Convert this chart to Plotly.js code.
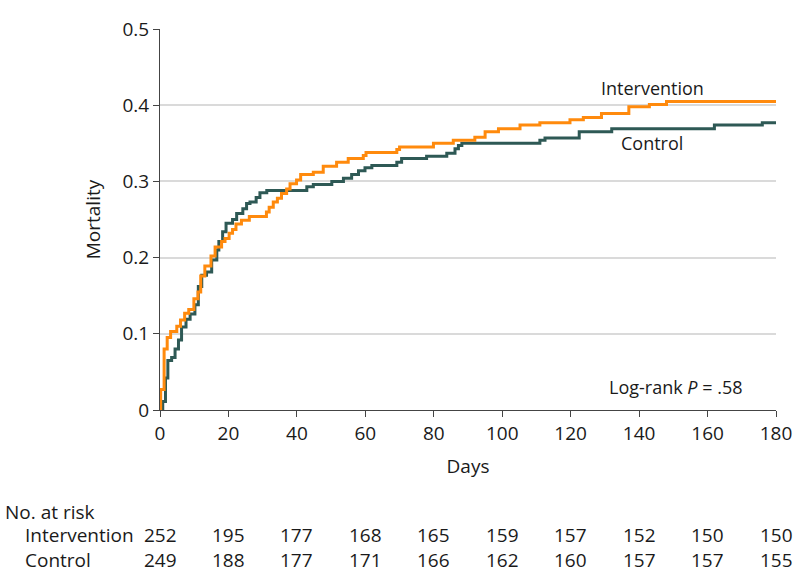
<!DOCTYPE html>
<html>
<head>
<meta charset="utf-8">
<script src="https://cdn.plot.ly/plotly-3.0.1.min.js"></script>
<style>
  html, body { margin: 0; padding: 0; background: #ffffff; }
  #chart { width: 794px; height: 588px; }
</style>
</head>
<body>
<div id="chart"></div>
<script>
// ---- Data ----
const interventionDays = [0, 0.2, 1.2, 2.1, 3.1, 4.9, 6.0, 7.2, 8.4, 9.9, 11.1, 11.9, 13.1, 14.9, 16.1, 18.0, 19.0, 20.2, 21.2, 22.2, 23.8, 26.1, 31.1, 31.9, 33.1, 34.3, 35.5, 37.0, 38.0, 39.9, 41.1, 44.8, 47.7, 51.6, 55.0, 59.4, 60.2, 69.2, 70.0, 79.9, 85.7, 92.0, 95.0, 98.9, 105.2, 111.0, 119.8, 123.7, 129.0, 137.0, 143.0, 148.0, 180];
const interventionMortality = [0, 0.027, 0.080, 0.095, 0.103, 0.110, 0.118, 0.127, 0.132, 0.146, 0.155, 0.176, 0.189, 0.202, 0.214, 0.221, 0.225, 0.232, 0.237, 0.244, 0.249, 0.254, 0.260, 0.266, 0.273, 0.278, 0.284, 0.290, 0.297, 0.302, 0.309, 0.312, 0.320, 0.325, 0.330, 0.334, 0.338, 0.342, 0.345, 0.350, 0.354, 0.358, 0.365, 0.369, 0.374, 0.377, 0.381, 0.384, 0.389, 0.398, 0.401, 0.405, 0.405];

const controlDays = [0, 0.8, 1.6, 2.3, 3.4, 4.4, 5.4, 6.3, 7.6, 8.8, 10.2, 11.2, 12.2, 13.6, 15.1, 16.6, 17.2, 18.3, 19.3, 21.2, 22.4, 24.2, 25.3, 26.3, 28.1, 29.2, 31.2, 42.9, 44.8, 50.2, 53.6, 56.0, 58.0, 59.9, 61.9, 69.2, 70.6, 77.9, 83.8, 86.2, 87.2, 88.2, 111.0, 112.5, 122.5, 132.0, 162.0, 176.0, 180];
const controlMortality = [0, 0.011, 0.042, 0.065, 0.069, 0.080, 0.092, 0.109, 0.119, 0.126, 0.138, 0.162, 0.177, 0.181, 0.197, 0.210, 0.221, 0.234, 0.245, 0.250, 0.258, 0.264, 0.271, 0.273, 0.279, 0.285, 0.288, 0.293, 0.296, 0.300, 0.304, 0.309, 0.314, 0.318, 0.321, 0.325, 0.330, 0.333, 0.337, 0.343, 0.347, 0.350, 0.354, 0.357, 0.365, 0.369, 0.374, 0.377, 0.377];

const riskTimes = [0, 20, 40, 60, 80, 100, 120, 140, 160, 180];
const riskIntervention = [252, 195, 177, 168, 165, 159, 157, 152, 150, 150];
const riskControl = [249, 188, 177, 171, 166, 162, 160, 157, 157, 155];

const groupNames = ["Intervention", "Control"];
const pValueText = "Log-rank <i>P</i> = .58";

// ---- Styling ----
const FONT = "'Open Sans', 'Noto Sans', 'DejaVu Sans', sans-serif";
const FS = 19;
const orange = "#FF8A0D";
const teal = "#2E5955";
const txt = "#1a1a1a";

const traces = [
  {
    x: controlDays, y: controlMortality, type: "scatter", mode: "lines",
    line: { shape: "hv", color: teal, width: 3 }, name: groupNames[1],
    cliponaxis: false
  },
  {
    x: interventionDays, y: interventionMortality, type: "scatter", mode: "lines",
    line: { shape: "hv", color: orange, width: 3 }, name: groupNames[0],
    cliponaxis: false
  }
];

const f = { family: FONT, size: FS, color: txt };
const annotations = [
  { x: 144, y: 0.423, xref: "x", yref: "y", text: groupNames[0], showarrow: false,
    xanchor: "center", yanchor: "middle", font: { family: FONT, size: 18, color: txt } },
  { x: 143.8, y: 0.351, xref: "x", yref: "y", text: groupNames[1], showarrow: false,
    xanchor: "center", yanchor: "middle", font: { family: FONT, size: 18, color: txt } },
  { x: 150.5, y: 0.030, xref: "x", yref: "y", text: pValueText, showarrow: false,
    xanchor: "center", yanchor: "middle", font: { family: FONT, size: 18, color: txt } },
  { x: -0.255, y: -0.268, xref: "paper", yref: "paper", xanchor: "left", yanchor: "middle",
    text: "No. at risk", showarrow: false, font: f },
  { x: -0.2224, y: -0.328, xref: "paper", yref: "paper", xanchor: "left", yanchor: "middle",
    text: groupNames[0], showarrow: false, font: f },
  { x: -0.2224, y: -0.394, xref: "paper", yref: "paper", xanchor: "left", yanchor: "middle",
    text: groupNames[1], showarrow: false, font: f }
];
riskTimes.forEach((t, i) => {
  annotations.push({ x: t, y: -0.328, xref: "x", yref: "paper", text: String(riskIntervention[i]),
    xanchor: "center", yanchor: "middle", showarrow: false, font: f });
  annotations.push({ x: t, y: -0.394, xref: "x", yref: "paper", text: String(riskControl[i]),
    xanchor: "center", yanchor: "middle", showarrow: false, font: f });
});

const layout = {
  width: 794, height: 588,
  margin: { l: 160, r: 18, t: 29, b: 178 },
  paper_bgcolor: "#ffffff", plot_bgcolor: "#ffffff",
  showlegend: false,
  font: f,
  xaxis: {
    range: [0, 180], dtick: 20, tick0: 0,
    showgrid: false, zeroline: false,
    showline: true, linecolor: "#444", linewidth: 1,
    ticks: "outside", ticklen: 6, tickcolor: "#444", tickwidth: 1,
    tickfont: f,
    title: { text: "Days", font: f, standoff: 14 },
    fixedrange: true
  },
  yaxis: {
    range: [0, 0.5], dtick: 0.1, tick0: 0,
    showgrid: true, gridcolor: "#dadada", gridwidth: 2,
    zeroline: false,
    showline: true, linecolor: "#444", linewidth: 1,
    ticks: "outside", ticklen: 6, tickcolor: "#444", tickwidth: 1,
    tickfont: f,
    title: { text: "Mortality", font: f, standoff: 16 },
    fixedrange: true
  },
  annotations: annotations
};

Plotly.newPlot("chart", traces, layout, { displayModeBar: false, staticPlot: true });
</script>
</body>
</html>
